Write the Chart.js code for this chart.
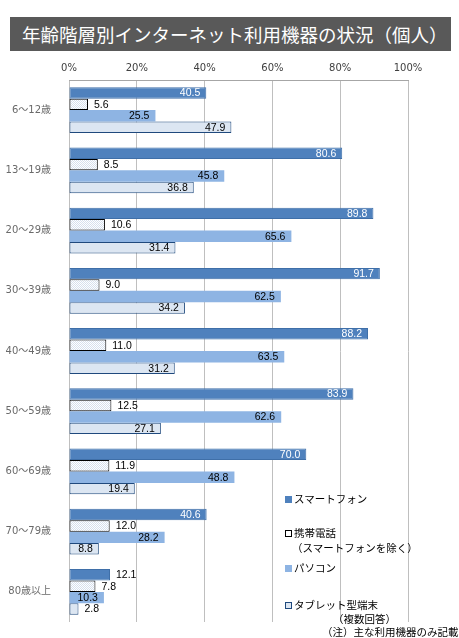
<!DOCTYPE html>
<html><head><meta charset="utf-8">
<script src="https://cdn.jsdelivr.net/npm/chart.js@4"></script>
<style>
html,body{margin:0;padding:0;background:#fff;}
#wrap{position:relative;width:459px;height:638px;overflow:hidden;}
#c{position:absolute;left:0;top:0;}
#title{position:absolute;left:10px;top:17px;width:441px;height:34px;background:#595959;color:#fff;
 font-family:"Noto Sans CJK JP";font-size:18.5px;line-height:34px;padding-left:12px;box-sizing:border-box;white-space:nowrap;}
.lg{position:absolute;font-family:"Noto Sans CJK JP";font-size:10.5px;color:#000;white-space:nowrap;line-height:14px;}
.mk{display:inline-block;width:7px;height:7px;margin-right:2px;vertical-align:0px;box-sizing:border-box;}
</style></head>
<body><div id="wrap">
<canvas id="c" width="459" height="638"></canvas>
<div id="title">年齢階層別インターネット利用機器の状況（個人）</div>
<div class="lg" style="left:285px;top:492px;"><span class="mk" style="background:#4F81BD"></span>スマートフォン</div>
<div class="lg" style="left:285px;top:526px;"><span class="mk" style="background:#fff;border:1px solid #000"></span>携帯電話</div>
<div class="lg" style="left:292px;top:541px;">（スマートフォンを除く）</div>
<div class="lg" style="left:285px;top:561px;"><span class="mk" style="background:#8EB4E3"></span>パソコン</div>
<div class="lg" style="left:285px;top:598px;"><span class="mk" style="background:#DCE6F2;border:1px solid #1F497D"></span>タブレット型端末</div>
<div class="lg" style="left:333px;top:612px;">（複数回答）</div>
<div class="lg" style="left:322px;top:625px;">（注）主な利用機器のみ記載</div>
</div>
<script>
const categories = ['6～12歳','13～19歳','20～29歳','30～39歳','40～49歳','50～59歳','60～69歳','70～79歳','80歳以上'];
const seriesNames = ['スマートフォン','携帯電話（スマートフォンを除く）','パソコン','タブレット型端末'];
const smartphone = [40.5,80.6,89.8,91.7,88.2,83.9,70.0,40.6,12.1];
const mobile = [5.6,8.5,10.6,9.0,11.0,12.5,11.9,12.0,7.8];
const pc = [25.5,45.8,65.6,62.5,63.5,62.6,48.8,28.2,10.3];
const tablet = [47.9,36.8,31.4,34.2,31.2,27.1,19.4,8.8,2.8];
const xTicks = [0,20,40,60,80,100];

function dotPattern(){
  const p=document.createElement('canvas');p.width=2;p.height=2;
  const g=p.getContext('2d');g.fillStyle='#fff';g.fillRect(0,0,2,2);
  g.fillStyle='#d6e0ee';g.fillRect(0,0,1,1);g.fillRect(1,1,1,1);
  return document.getElementById('c').getContext('2d').createPattern(p,'repeat');
}

const labelCfg = [
  {inColor:'#fff', minInside:15},
  {inColor:'#000', minInside:Infinity},
  {inColor:'#000', minInside:5},
  {inColor:'#000', minInside:5}
];

const labelPlugin = {
  id:'valLabels',
  afterDatasetsDraw(chart){
    const ctx=chart.ctx;
    ctx.save();
    ctx.font='10.5px "Liberation Sans"';
    ctx.textBaseline='middle';
    chart.data.datasets.forEach((ds,di)=>{
      const meta=chart.getDatasetMeta(di);
      meta.data.forEach((el,i)=>{
        const v=ds.data[i];
        const txt=v.toFixed(1);
        const cfg=labelCfg[di];
        if(v>=cfg.minInside){
          ctx.fillStyle=cfg.inColor;ctx.textAlign='right';
          ctx.fillText(txt,el.x-6,el.y+0.5);
        }else{
          ctx.fillStyle='#000';ctx.textAlign='left';
          ctx.fillText(txt,el.x+6,el.y+0.5);
        }
      });
    });
    ctx.restore();
  }
};

new Chart(document.getElementById('c'),{
  type:'bar',
  data:{
    labels:categories,
    datasets:[
      {label:seriesNames[0],data:smartphone,backgroundColor:'#4F81BD',borderColor:'#3F6FA8',borderWidth:1,borderSkipped:false},
      {label:seriesNames[1],data:mobile,backgroundColor:dotPattern(),borderColor:'#000',borderWidth:1,borderSkipped:false},
      {label:seriesNames[2],data:pc,backgroundColor:'#8EB4E3',borderColor:'#8EB4E3',borderWidth:0,borderSkipped:false},
      {label:seriesNames[3],data:tablet,backgroundColor:'#DCE6F2',borderColor:'#1F497D',borderWidth:1,borderSkipped:false}
    ]
  },
  options:{
    indexAxis:'y',
    responsive:false,
    animation:false,
    events:[],
    datasets:{bar:{categoryPercentage:0.76,barPercentage:1.0}},
    layout:{padding:{left:0,right:51,top:0,bottom:13}},
    plugins:{legend:{display:false},tooltip:{enabled:false}},
    scales:{
      x:{
        position:'top',min:0,max:100,
        afterBuildTicks(s){s.ticks=xTicks.map(v=>({value:v}));},
        afterFit(s){s.height=80;},
        grid:{color:'#BFBFBF',lineWidth:1,drawTicks:false},
        border:{display:true,color:'#A6A6A6'},
        ticks:{padding:6,color:'#404040',font:{family:'DejaVu Sans',size:10},callback:v=>v+'%',maxRotation:0}
      },
      y:{
        afterFit(s){s.width=69;},
        grid:{display:false},
        border:{display:false},
        ticks:{padding:10,color:'#6a6a6a',font:{family:'DejaVu Sans, Noto Sans CJK JP',size:10}}
      }
    }
  },
  plugins:[labelPlugin]
});
</script>
</body></html>
